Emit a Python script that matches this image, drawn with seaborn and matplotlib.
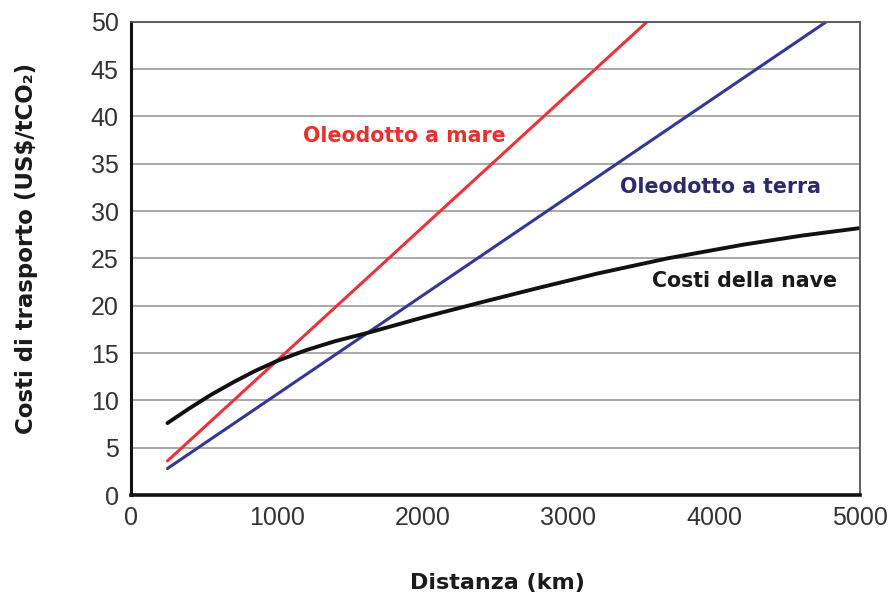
import matplotlib
matplotlib.use("Agg")
import matplotlib.pyplot as plt
import seaborn as sns
import pandas as pd

# --- data ---
ship_km = [250, 400, 550, 700, 850, 1000, 1200, 1400, 1640, 2000, 2400, 2800, 3200, 3680, 4200, 4600, 5000]
ship_cost = [7.6, 9.15, 10.6, 11.9, 13.1, 14.15, 15.3, 16.25, 17.2, 18.75, 20.35, 21.9, 23.4, 25.0, 26.45, 27.4, 28.2]

offshore_km = [250, 3540]
offshore_cost = [3.6, 50.0]

onshore_km = [250, 4770]
onshore_cost = [2.8, 50.0]

x_ticks = [0, 1000, 2000, 3000, 4000, 5000]
y_ticks = [0, 5, 10, 15, 20, 25, 30, 35, 40, 45, 50]

series_labels = ["Oleodotto a mare", "Oleodotto a terra", "Costi della nave"]

sns.set_style("white")
plt.rcParams["font.family"] = ["DejaVu Sans"]

fig = plt.figure(figsize=(8.93, 5.98), dpi=100)
ax = fig.add_axes([0.1467, 0.1722, 0.963 - 0.1467, 0.9637 - 0.1722])

red = "#e8343a"
blue = "#343894"
black = "#111111"

sns.lineplot(x=offshore_km, y=offshore_cost, ax=ax, color=red, linewidth=2.2)
sns.lineplot(x=onshore_km, y=onshore_cost, ax=ax, color=blue, linewidth=2.2)
sns.lineplot(x=ship_km, y=ship_cost, ax=ax, color=black, linewidth=2.8)

ax.set_xlim(0, 5000)
ax.set_ylim(0, 50)
ax.set_xticks(x_ticks)
ax.set_yticks(y_ticks)
tick_font = ["Liberation Sans", "DejaVu Sans"]
ax.set_xticklabels([str(v) for v in x_ticks], family=tick_font, fontsize=18, color="#333333")
ax.set_yticklabels([str(v) for v in y_ticks], family=tick_font, fontsize=18, color="#333333")

ax.yaxis.grid(True, color="#a8a8a8", linewidth=1.4)
ax.xaxis.grid(False)
ax.set_axisbelow(True)

for side in ["top", "right"]:
    ax.spines[side].set_visible(True)
    ax.spines[side].set_color("#555555")
    ax.spines[side].set_linewidth(1.3)
ax.spines["left"].set_color("#111111")
ax.spines["left"].set_linewidth(2.2)
ax.spines["bottom"].set_color("#111111")
ax.spines["bottom"].set_linewidth(2.6)

ax.tick_params(axis="x", direction="inout", length=8, width=1.2, color="#333333", pad=4)
ax.tick_params(axis="y", direction="out", length=5, width=1.2, color="#333333", pad=4)

ax.set_xlabel("Distanza (km)", fontsize=16, fontweight="bold", color="#1a1a1a")
ax.xaxis.label.set_va("center")
ax.xaxis.set_label_coords(0.503, -0.186)
ax.set_ylabel("Costi di trasporto (US$/tCO\u2082)", fontsize=16.5, fontweight="bold", color="#1a1a1a")
ax.yaxis.label.set_va("center")
ax.yaxis.set_label_coords(-0.1427, 0.521)

ax.text(1872, 37.9, series_labels[0], color="#e5322d", fontsize=14.8, fontweight="bold",
        ha="center", va="center")
ax.text(4045, 32.5, series_labels[1], color="#2b2a6e", fontsize=14.8, fontweight="bold",
        ha="center", va="center")
ax.text(4205, 22.6, series_labels[2], color="#1a1a1a", fontsize=14.8, fontweight="bold",
        ha="center", va="center")

fig.savefig("out.png", dpi=100)
